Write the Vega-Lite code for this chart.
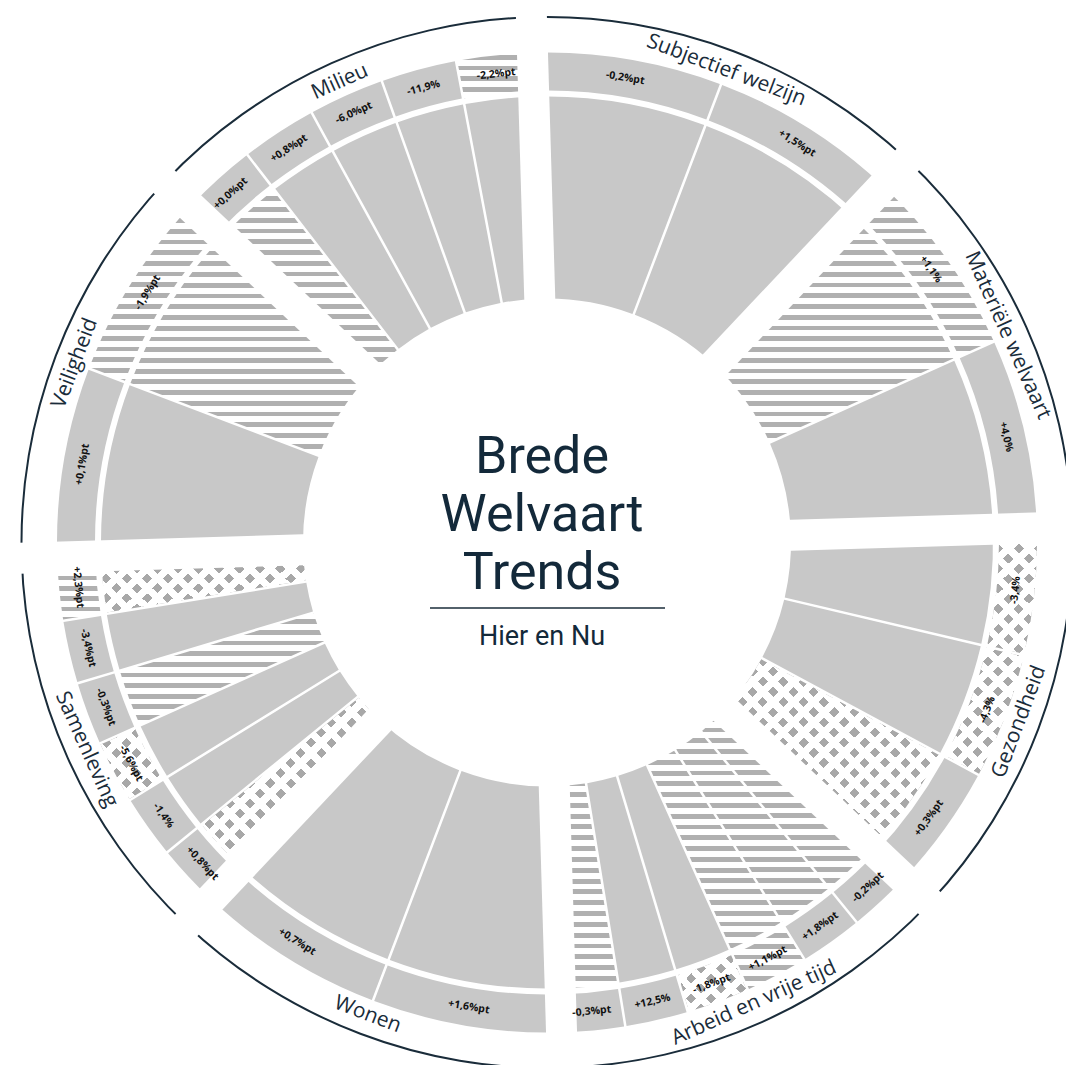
{
  "$schema": "https://vega.github.io/schema/vega-lite/v6.json",
  "width": 1038,
  "height": 1045,
  "padding": {"left": 28, "top": 20, "right": 0, "bottom": 0},
  "autosize": {"type": "none"},
  "background": "white",
  "config": {"view": {"stroke": null}},
  "params": [
    {"name": "streep", "value": [
      {"offset":0,"color":"#b0b0b0"},{"offset":0.018,"color":"#b0b0b0"},{"offset":0.018,"color":"#fff"},{"offset":0.04,"color":"#fff"},
      {"offset":0.04,"color":"#b0b0b0"},{"offset":0.058,"color":"#b0b0b0"},{"offset":0.058,"color":"#fff"},{"offset":0.08,"color":"#fff"},
      {"offset":0.08,"color":"#b0b0b0"},{"offset":0.098,"color":"#b0b0b0"},{"offset":0.098,"color":"#fff"},{"offset":0.12,"color":"#fff"},
      {"offset":0.12,"color":"#b0b0b0"},{"offset":0.138,"color":"#b0b0b0"},{"offset":0.138,"color":"#fff"},{"offset":0.16,"color":"#fff"},
      {"offset":0.16,"color":"#b0b0b0"},{"offset":0.178,"color":"#b0b0b0"},{"offset":0.178,"color":"#fff"},{"offset":0.2,"color":"#fff"},
      {"offset":0.2,"color":"#b0b0b0"},{"offset":0.218,"color":"#b0b0b0"},{"offset":0.218,"color":"#fff"},{"offset":0.24,"color":"#fff"},
      {"offset":0.24,"color":"#b0b0b0"},{"offset":0.258,"color":"#b0b0b0"},{"offset":0.258,"color":"#fff"},{"offset":0.28,"color":"#fff"},
      {"offset":0.28,"color":"#b0b0b0"},{"offset":0.298,"color":"#b0b0b0"},{"offset":0.298,"color":"#fff"},{"offset":0.32,"color":"#fff"},
      {"offset":0.32,"color":"#b0b0b0"},{"offset":0.338,"color":"#b0b0b0"},{"offset":0.338,"color":"#fff"},{"offset":0.36,"color":"#fff"},
      {"offset":0.36,"color":"#b0b0b0"},{"offset":0.378,"color":"#b0b0b0"},{"offset":0.378,"color":"#fff"},{"offset":0.4,"color":"#fff"},
      {"offset":0.4,"color":"#b0b0b0"},{"offset":0.418,"color":"#b0b0b0"},{"offset":0.418,"color":"#fff"},{"offset":0.44,"color":"#fff"},
      {"offset":0.44,"color":"#b0b0b0"},{"offset":0.458,"color":"#b0b0b0"},{"offset":0.458,"color":"#fff"},{"offset":0.48,"color":"#fff"},
      {"offset":0.48,"color":"#b0b0b0"},{"offset":0.498,"color":"#b0b0b0"},{"offset":0.498,"color":"#fff"},{"offset":0.52,"color":"#fff"},
      {"offset":0.52,"color":"#b0b0b0"},{"offset":0.538,"color":"#b0b0b0"},{"offset":0.538,"color":"#fff"},{"offset":0.56,"color":"#fff"},
      {"offset":0.56,"color":"#b0b0b0"},{"offset":0.578,"color":"#b0b0b0"},{"offset":0.578,"color":"#fff"},{"offset":0.6,"color":"#fff"},
      {"offset":0.6,"color":"#b0b0b0"},{"offset":0.618,"color":"#b0b0b0"},{"offset":0.618,"color":"#fff"},{"offset":0.64,"color":"#fff"},
      {"offset":0.64,"color":"#b0b0b0"},{"offset":0.658,"color":"#b0b0b0"},{"offset":0.658,"color":"#fff"},{"offset":0.68,"color":"#fff"},
      {"offset":0.68,"color":"#b0b0b0"},{"offset":0.698,"color":"#b0b0b0"},{"offset":0.698,"color":"#fff"},{"offset":0.72,"color":"#fff"},
      {"offset":0.72,"color":"#b0b0b0"},{"offset":0.738,"color":"#b0b0b0"},{"offset":0.738,"color":"#fff"},{"offset":0.76,"color":"#fff"},
      {"offset":0.76,"color":"#b0b0b0"},{"offset":0.778,"color":"#b0b0b0"},{"offset":0.778,"color":"#fff"},{"offset":0.8,"color":"#fff"},
      {"offset":0.8,"color":"#b0b0b0"},{"offset":0.818,"color":"#b0b0b0"},{"offset":0.818,"color":"#fff"},{"offset":0.84,"color":"#fff"},
      {"offset":0.84,"color":"#b0b0b0"},{"offset":0.858,"color":"#b0b0b0"},{"offset":0.858,"color":"#fff"},{"offset":0.88,"color":"#fff"},
      {"offset":0.88,"color":"#b0b0b0"},{"offset":0.898,"color":"#b0b0b0"},{"offset":0.898,"color":"#fff"},{"offset":0.92,"color":"#fff"},
      {"offset":0.92,"color":"#b0b0b0"},{"offset":0.938,"color":"#b0b0b0"},{"offset":0.938,"color":"#fff"},{"offset":0.96,"color":"#fff"},
      {"offset":0.96,"color":"#b0b0b0"},{"offset":0.978,"color":"#b0b0b0"},{"offset":0.978,"color":"#fff"},{"offset":1,"color":"#fff"}
    ]},
    {"name": "stipA", "value": [
      {"offset":0,"color":"#a8a8a8"},{"offset":0.02,"color":"#a8a8a8"},{"offset":0.02,"color":"#fff"},{"offset":0.04,"color":"#fff"},
      {"offset":0.04,"color":"#a8a8a8"},{"offset":0.06,"color":"#a8a8a8"},{"offset":0.06,"color":"#fff"},{"offset":0.08,"color":"#fff"},
      {"offset":0.08,"color":"#a8a8a8"},{"offset":0.1,"color":"#a8a8a8"},{"offset":0.1,"color":"#fff"},{"offset":0.12,"color":"#fff"},
      {"offset":0.12,"color":"#a8a8a8"},{"offset":0.14,"color":"#a8a8a8"},{"offset":0.14,"color":"#fff"},{"offset":0.16,"color":"#fff"},
      {"offset":0.16,"color":"#a8a8a8"},{"offset":0.18,"color":"#a8a8a8"},{"offset":0.18,"color":"#fff"},{"offset":0.2,"color":"#fff"},
      {"offset":0.2,"color":"#a8a8a8"},{"offset":0.22,"color":"#a8a8a8"},{"offset":0.22,"color":"#fff"},{"offset":0.24,"color":"#fff"},
      {"offset":0.24,"color":"#a8a8a8"},{"offset":0.26,"color":"#a8a8a8"},{"offset":0.26,"color":"#fff"},{"offset":0.28,"color":"#fff"},
      {"offset":0.28,"color":"#a8a8a8"},{"offset":0.3,"color":"#a8a8a8"},{"offset":0.3,"color":"#fff"},{"offset":0.32,"color":"#fff"},
      {"offset":0.32,"color":"#a8a8a8"},{"offset":0.34,"color":"#a8a8a8"},{"offset":0.34,"color":"#fff"},{"offset":0.36,"color":"#fff"},
      {"offset":0.36,"color":"#a8a8a8"},{"offset":0.38,"color":"#a8a8a8"},{"offset":0.38,"color":"#fff"},{"offset":0.4,"color":"#fff"},
      {"offset":0.4,"color":"#a8a8a8"},{"offset":0.42,"color":"#a8a8a8"},{"offset":0.42,"color":"#fff"},{"offset":0.44,"color":"#fff"},
      {"offset":0.44,"color":"#a8a8a8"},{"offset":0.46,"color":"#a8a8a8"},{"offset":0.46,"color":"#fff"},{"offset":0.48,"color":"#fff"},
      {"offset":0.48,"color":"#a8a8a8"},{"offset":0.5,"color":"#a8a8a8"},{"offset":0.5,"color":"#fff"},{"offset":0.52,"color":"#fff"},
      {"offset":0.52,"color":"#a8a8a8"},{"offset":0.54,"color":"#a8a8a8"},{"offset":0.54,"color":"#fff"},{"offset":0.56,"color":"#fff"},
      {"offset":0.56,"color":"#a8a8a8"},{"offset":0.58,"color":"#a8a8a8"},{"offset":0.58,"color":"#fff"},{"offset":0.6,"color":"#fff"},
      {"offset":0.6,"color":"#a8a8a8"},{"offset":0.62,"color":"#a8a8a8"},{"offset":0.62,"color":"#fff"},{"offset":0.64,"color":"#fff"},
      {"offset":0.64,"color":"#a8a8a8"},{"offset":0.66,"color":"#a8a8a8"},{"offset":0.66,"color":"#fff"},{"offset":0.68,"color":"#fff"},
      {"offset":0.68,"color":"#a8a8a8"},{"offset":0.7,"color":"#a8a8a8"},{"offset":0.7,"color":"#fff"},{"offset":0.72,"color":"#fff"},
      {"offset":0.72,"color":"#a8a8a8"},{"offset":0.74,"color":"#a8a8a8"},{"offset":0.74,"color":"#fff"},{"offset":0.76,"color":"#fff"},
      {"offset":0.76,"color":"#a8a8a8"},{"offset":0.78,"color":"#a8a8a8"},{"offset":0.78,"color":"#fff"},{"offset":0.8,"color":"#fff"},
      {"offset":0.8,"color":"#a8a8a8"},{"offset":0.82,"color":"#a8a8a8"},{"offset":0.82,"color":"#fff"},{"offset":0.84,"color":"#fff"},
      {"offset":0.84,"color":"#a8a8a8"},{"offset":0.86,"color":"#a8a8a8"},{"offset":0.86,"color":"#fff"},{"offset":0.88,"color":"#fff"},
      {"offset":0.88,"color":"#a8a8a8"},{"offset":0.9,"color":"#a8a8a8"},{"offset":0.9,"color":"#fff"},{"offset":0.92,"color":"#fff"},
      {"offset":0.92,"color":"#a8a8a8"},{"offset":0.94,"color":"#a8a8a8"},{"offset":0.94,"color":"#fff"},{"offset":0.96,"color":"#fff"},
      {"offset":0.96,"color":"#a8a8a8"},{"offset":0.98,"color":"#a8a8a8"},{"offset":0.98,"color":"#fff"},{"offset":1,"color":"#fff"}
    ]},
    {"name": "stipB", "value": [
      {"offset":0,"color":"#fff"},{"offset":0.02,"color":"#fff"},{"offset":0.02,"color":"rgba(255,255,255,0)"},{"offset":0.04,"color":"rgba(255,255,255,0)"},
      {"offset":0.04,"color":"#fff"},{"offset":0.06,"color":"#fff"},{"offset":0.06,"color":"rgba(255,255,255,0)"},{"offset":0.08,"color":"rgba(255,255,255,0)"},
      {"offset":0.08,"color":"#fff"},{"offset":0.1,"color":"#fff"},{"offset":0.1,"color":"rgba(255,255,255,0)"},{"offset":0.12,"color":"rgba(255,255,255,0)"},
      {"offset":0.12,"color":"#fff"},{"offset":0.14,"color":"#fff"},{"offset":0.14,"color":"rgba(255,255,255,0)"},{"offset":0.16,"color":"rgba(255,255,255,0)"},
      {"offset":0.16,"color":"#fff"},{"offset":0.18,"color":"#fff"},{"offset":0.18,"color":"rgba(255,255,255,0)"},{"offset":0.2,"color":"rgba(255,255,255,0)"},
      {"offset":0.2,"color":"#fff"},{"offset":0.22,"color":"#fff"},{"offset":0.22,"color":"rgba(255,255,255,0)"},{"offset":0.24,"color":"rgba(255,255,255,0)"},
      {"offset":0.24,"color":"#fff"},{"offset":0.26,"color":"#fff"},{"offset":0.26,"color":"rgba(255,255,255,0)"},{"offset":0.28,"color":"rgba(255,255,255,0)"},
      {"offset":0.28,"color":"#fff"},{"offset":0.3,"color":"#fff"},{"offset":0.3,"color":"rgba(255,255,255,0)"},{"offset":0.32,"color":"rgba(255,255,255,0)"},
      {"offset":0.32,"color":"#fff"},{"offset":0.34,"color":"#fff"},{"offset":0.34,"color":"rgba(255,255,255,0)"},{"offset":0.36,"color":"rgba(255,255,255,0)"},
      {"offset":0.36,"color":"#fff"},{"offset":0.38,"color":"#fff"},{"offset":0.38,"color":"rgba(255,255,255,0)"},{"offset":0.4,"color":"rgba(255,255,255,0)"},
      {"offset":0.4,"color":"#fff"},{"offset":0.42,"color":"#fff"},{"offset":0.42,"color":"rgba(255,255,255,0)"},{"offset":0.44,"color":"rgba(255,255,255,0)"},
      {"offset":0.44,"color":"#fff"},{"offset":0.46,"color":"#fff"},{"offset":0.46,"color":"rgba(255,255,255,0)"},{"offset":0.48,"color":"rgba(255,255,255,0)"},
      {"offset":0.48,"color":"#fff"},{"offset":0.5,"color":"#fff"},{"offset":0.5,"color":"rgba(255,255,255,0)"},{"offset":0.52,"color":"rgba(255,255,255,0)"},
      {"offset":0.52,"color":"#fff"},{"offset":0.54,"color":"#fff"},{"offset":0.54,"color":"rgba(255,255,255,0)"},{"offset":0.56,"color":"rgba(255,255,255,0)"},
      {"offset":0.56,"color":"#fff"},{"offset":0.58,"color":"#fff"},{"offset":0.58,"color":"rgba(255,255,255,0)"},{"offset":0.6,"color":"rgba(255,255,255,0)"},
      {"offset":0.6,"color":"#fff"},{"offset":0.62,"color":"#fff"},{"offset":0.62,"color":"rgba(255,255,255,0)"},{"offset":0.64,"color":"rgba(255,255,255,0)"},
      {"offset":0.64,"color":"#fff"},{"offset":0.66,"color":"#fff"},{"offset":0.66,"color":"rgba(255,255,255,0)"},{"offset":0.68,"color":"rgba(255,255,255,0)"},
      {"offset":0.68,"color":"#fff"},{"offset":0.7,"color":"#fff"},{"offset":0.7,"color":"rgba(255,255,255,0)"},{"offset":0.72,"color":"rgba(255,255,255,0)"},
      {"offset":0.72,"color":"#fff"},{"offset":0.74,"color":"#fff"},{"offset":0.74,"color":"rgba(255,255,255,0)"},{"offset":0.76,"color":"rgba(255,255,255,0)"},
      {"offset":0.76,"color":"#fff"},{"offset":0.78,"color":"#fff"},{"offset":0.78,"color":"rgba(255,255,255,0)"},{"offset":0.8,"color":"rgba(255,255,255,0)"},
      {"offset":0.8,"color":"#fff"},{"offset":0.82,"color":"#fff"},{"offset":0.82,"color":"rgba(255,255,255,0)"},{"offset":0.84,"color":"rgba(255,255,255,0)"},
      {"offset":0.84,"color":"#fff"},{"offset":0.86,"color":"#fff"},{"offset":0.86,"color":"rgba(255,255,255,0)"},{"offset":0.88,"color":"rgba(255,255,255,0)"},
      {"offset":0.88,"color":"#fff"},{"offset":0.9,"color":"#fff"},{"offset":0.9,"color":"rgba(255,255,255,0)"},{"offset":0.92,"color":"rgba(255,255,255,0)"},
      {"offset":0.92,"color":"#fff"},{"offset":0.94,"color":"#fff"},{"offset":0.94,"color":"rgba(255,255,255,0)"},{"offset":0.96,"color":"rgba(255,255,255,0)"},
      {"offset":0.96,"color":"#fff"},{"offset":0.98,"color":"#fff"},{"offset":0.98,"color":"rgba(255,255,255,0)"},{"offset":1,"color":"rgba(255,255,255,0)"}
    ]}
  ],
  "title": {
    "text": ["Brede", "Welvaart", "Trends"],
    "subtitle": "Hier en Nu",
    "anchor": "middle",
    "frame": "group",
    "font": "Roboto",
    "fontSize": 52,
    "fontWeight": 400,
    "color": "#13293a",
    "lineHeight": 58,
    "subtitleFont": "Roboto",
    "subtitleFontSize": 27,
    "subtitleColor": "#13293a",
    "subtitlePadding": 24,
    "offset": 0,
    "dx": -5,
    "dy": 669
  },
  "data": {"values": [
    {"thema": "Subjectief welzijn", "label": "-0,2%pt", "balk": "vol", "band": "vol"},
    {"thema": "Subjectief welzijn", "label": "+1,5%pt", "balk": "vol", "band": "vol"},
    {"thema": "Materiële welvaart", "label": "+1,1%", "balk": "streep", "band": "streep"},
    {"thema": "Materiële welvaart", "label": "+4,0%", "balk": "vol", "band": "vol"},
    {"thema": "Gezondheid", "label": "-3,4%", "balk": "vol", "band": "stip"},
    {"thema": "Gezondheid", "label": "-4,3%", "balk": "vol", "band": "stip"},
    {"thema": "Gezondheid", "label": "+0,3%pt", "balk": "stip", "band": "vol"},
    {"thema": "Arbeid en vrije tijd", "label": "-0,2%pt", "balk": "streep", "band": "vol"},
    {"thema": "Arbeid en vrije tijd", "label": "+1,8%pt", "balk": "streep", "band": "vol"},
    {"thema": "Arbeid en vrije tijd", "label": "+1,1%pt", "balk": "streep", "band": "streep"},
    {"thema": "Arbeid en vrije tijd", "label": "-1,8%pt", "balk": "vol", "band": "stip"},
    {"thema": "Arbeid en vrije tijd", "label": "+12,5%", "balk": "vol", "band": "vol"},
    {"thema": "Arbeid en vrije tijd", "label": "-0,3%pt", "balk": "streep", "band": "vol"},
    {"thema": "Wonen", "label": "+1,6%pt", "balk": "vol", "band": "vol"},
    {"thema": "Wonen", "label": "+0,7%pt", "balk": "vol", "band": "vol"},
    {"thema": "Samenleving", "label": "+0,8%pt", "balk": "stip", "band": "vol"},
    {"thema": "Samenleving", "label": "-1,4%", "balk": "vol", "band": "vol"},
    {"thema": "Samenleving", "label": "-5,6%pt", "balk": "vol", "band": "stip"},
    {"thema": "Samenleving", "label": "-0,3%pt", "balk": "streep", "band": "vol"},
    {"thema": "Samenleving", "label": "-3,4%pt", "balk": "vol", "band": "vol"},
    {"thema": "Samenleving", "label": "+2,3%pt", "balk": "stip", "band": "streep"},
    {"thema": "Veiligheid", "label": "+0,1%pt", "balk": "vol", "band": "vol"},
    {"thema": "Veiligheid", "label": "-1,9%pt", "balk": "streep", "band": "streep"},
    {"thema": "Milieu", "label": "+0,0%pt", "balk": "streep", "band": "vol"},
    {"thema": "Milieu", "label": "+0,8%pt", "balk": "vol", "band": "vol"},
    {"thema": "Milieu", "label": "-6,0%pt", "balk": "vol", "band": "vol"},
    {"thema": "Milieu", "label": "-11,9%", "balk": "vol", "band": "vol"},
    {"thema": "Milieu", "label": "-2,2%pt", "balk": "vol", "band": "streep"}
  ]},
  "transform": [
    {"window": [{"op": "row_number", "as": "g"}]},
    {"joinaggregate": [{"op": "min", "field": "g", "as": "g0"}, {"op": "count", "as": "n"}], "groupby": ["thema"]},
    {"window": [{"op": "dense_rank", "as": "ti"}], "sort": [{"field": "g0", "order": "ascending"}]},
    {"calculate": "(datum.ti - 1) * 45 + (datum.g - datum.g0) * 45 / datum.n", "as": "t0"},
    {"calculate": "datum.t0 + 45 / datum.n", "as": "t1"},
    {"calculate": "(datum.t0 + datum.t1) / 2", "as": "tm"},
    {"calculate": "(datum.t0 - 1.7) * PI / 180", "as": "a0"},
    {"calculate": "(datum.t1 - 1.7) * PI / 180", "as": "a1"}
  ],
  "layer": [
    {
      "transform": [
        {"calculate": "min(-244 * cos(datum.a0), -244 * cos(datum.a1), -446 * cos(datum.a0), -446 * cos(datum.a1), (datum.a0 < 0 && datum.a1 > 0) ? -446 : 9999)", "as": "ymin"},
        {"calculate": "max(-244 * cos(datum.a0), -244 * cos(datum.a1), -446 * cos(datum.a0), -446 * cos(datum.a1), (datum.a0 < PI && datum.a1 > PI) ? 446 : -9999)", "as": "ymax"},
        {"calculate": "min(244 * sin(datum.a0), 244 * sin(datum.a1), 446 * sin(datum.a0), 446 * sin(datum.a1), (datum.a0 < 1.5 * PI && datum.a1 > 1.5 * PI) ? -446 : 9999)", "as": "xmin"},
        {"calculate": "max(244 * sin(datum.a0), 244 * sin(datum.a1), 446 * sin(datum.a0), 446 * sin(datum.a1), (datum.a0 < 0.5 * PI && datum.a1 > 0.5 * PI) ? 446 : -9999)", "as": "xmax"},
        {"calculate": "pow(datum.xmax - datum.xmin, 2) + pow(datum.ymax - datum.ymin, 2)", "as": "D"},
        {"calculate": "(datum.xmax - datum.xmin) * 512.5 / datum.D", "as": "gx"},
        {"calculate": "(datum.ymax - datum.ymin) * 512.5 / datum.D", "as": "gy"},
        {"calculate": "(floor((datum.xmin + datum.ymin) / 20.5) * 20.5 - datum.xmin - datum.ymin) / 512.5", "as": "kA"},
        {"calculate": "datum.balk == 'streep' ? {gradient: 'linear', x1: 0, x2: 0, y1: (floor(datum.ymin / 10.84) * 10.84 - datum.ymin) / (datum.ymax - datum.ymin), y2: (floor(datum.ymin / 10.84) * 10.84 - datum.ymin + 271) / (datum.ymax - datum.ymin), stops: streep} : (datum.balk == 'stip' ? {gradient: 'linear', x1: datum.kA * datum.gx, y1: datum.kA * datum.gy, x2: (datum.kA + 1) * datum.gx, y2: (datum.kA + 1) * datum.gy, stops: stipA} : '#c8c8c8')", "as": "vul"}
      ],
      "mark": {"type": "arc", "radius": 446, "radius2": 244, "padAngle": 0.005},
      "encoding": {
        "theta": {"field": "t0", "type": "quantitative", "stack": null, "scale": {"domain": [0, 360], "range": [-0.02967, 6.25352]}},
        "theta2": {"field": "t1"},
        "fill": {"field": "vul", "type": "nominal", "scale": null}
      }
    },
    {
      "transform": [
        {"filter": "datum.balk == 'stip'"},
        {"calculate": "min(-244 * cos(datum.a0), -244 * cos(datum.a1), -446 * cos(datum.a0), -446 * cos(datum.a1), (datum.a0 < 0 && datum.a1 > 0) ? -446 : 9999)", "as": "ymin"},
        {"calculate": "max(-244 * cos(datum.a0), -244 * cos(datum.a1), -446 * cos(datum.a0), -446 * cos(datum.a1), (datum.a0 < PI && datum.a1 > PI) ? 446 : -9999)", "as": "ymax"},
        {"calculate": "min(244 * sin(datum.a0), 244 * sin(datum.a1), 446 * sin(datum.a0), 446 * sin(datum.a1), (datum.a0 < 1.5 * PI && datum.a1 > 1.5 * PI) ? -446 : 9999)", "as": "xmin"},
        {"calculate": "max(244 * sin(datum.a0), 244 * sin(datum.a1), 446 * sin(datum.a0), 446 * sin(datum.a1), (datum.a0 < 0.5 * PI && datum.a1 > 0.5 * PI) ? 446 : -9999)", "as": "xmax"},
        {"calculate": "pow(datum.xmax - datum.xmin, 2) + pow(datum.ymax - datum.ymin, 2)", "as": "D"},
        {"calculate": "(datum.xmax - datum.xmin) * 512.5 / datum.D", "as": "gx"},
        {"calculate": "(datum.ymax - datum.ymin) * 512.5 / datum.D", "as": "gy"},
        {"calculate": "(floor((datum.xmin - datum.ymax) / 20.5) * 20.5 - datum.xmin + datum.ymin) / 512.5", "as": "kB"},
        {"calculate": "{gradient: 'linear', x1: datum.kB * datum.gx, y1: -datum.kB * datum.gy, x2: (datum.kB + 1) * datum.gx, y2: -(datum.kB + 1) * datum.gy, stops: stipB}", "as": "vul"}
      ],
      "mark": {"type": "arc", "radius": 446, "radius2": 244, "padAngle": 0.005},
      "encoding": {
        "theta": {"field": "t0", "type": "quantitative", "stack": null, "scale": {"domain": [0, 360], "range": [-0.02967, 6.25352]}},
        "theta2": {"field": "t1"},
        "fill": {"field": "vul", "type": "nominal", "scale": null}
      }
    },
    {
      "transform": [
        {"calculate": "min(-452 * cos(datum.a0), -452 * cos(datum.a1), -490 * cos(datum.a0), -490 * cos(datum.a1), (datum.a0 < 0 && datum.a1 > 0) ? -490 : 9999)", "as": "ymin"},
        {"calculate": "max(-452 * cos(datum.a0), -452 * cos(datum.a1), -490 * cos(datum.a0), -490 * cos(datum.a1), (datum.a0 < PI && datum.a1 > PI) ? 490 : -9999)", "as": "ymax"},
        {"calculate": "min(452 * sin(datum.a0), 452 * sin(datum.a1), 490 * sin(datum.a0), 490 * sin(datum.a1), (datum.a0 < 1.5 * PI && datum.a1 > 1.5 * PI) ? -490 : 9999)", "as": "xmin"},
        {"calculate": "max(452 * sin(datum.a0), 452 * sin(datum.a1), 490 * sin(datum.a0), 490 * sin(datum.a1), (datum.a0 < 0.5 * PI && datum.a1 > 0.5 * PI) ? 490 : -9999)", "as": "xmax"},
        {"calculate": "pow(datum.xmax - datum.xmin, 2) + pow(datum.ymax - datum.ymin, 2)", "as": "D"},
        {"calculate": "(datum.xmax - datum.xmin) * 512.5 / datum.D", "as": "gx"},
        {"calculate": "(datum.ymax - datum.ymin) * 512.5 / datum.D", "as": "gy"},
        {"calculate": "(floor((datum.xmin + datum.ymin) / 20.5) * 20.5 - datum.xmin - datum.ymin) / 512.5", "as": "kA"},
        {"calculate": "datum.band == 'streep' ? {gradient: 'linear', x1: 0, x2: 0, y1: (floor(datum.ymin / 10.84) * 10.84 - datum.ymin) / (datum.ymax - datum.ymin), y2: (floor(datum.ymin / 10.84) * 10.84 - datum.ymin + 271) / (datum.ymax - datum.ymin), stops: streep} : (datum.band == 'stip' ? {gradient: 'linear', x1: datum.kA * datum.gx, y1: datum.kA * datum.gy, x2: (datum.kA + 1) * datum.gx, y2: (datum.kA + 1) * datum.gy, stops: stipA} : '#c8c8c8')", "as": "vul"}
      ],
      "mark": {"type": "arc", "radius": 490, "radius2": 452, "padAngle": 0.0038},
      "encoding": {
        "theta": {"field": "t0", "type": "quantitative", "stack": null, "scale": {"domain": [0, 360], "range": [-0.02967, 6.25352]}},
        "theta2": {"field": "t1"},
        "fill": {"field": "vul", "type": "nominal", "scale": null}
      }
    },
    {
      "transform": [
        {"filter": "datum.band == 'stip'"},
        {"calculate": "min(-452 * cos(datum.a0), -452 * cos(datum.a1), -490 * cos(datum.a0), -490 * cos(datum.a1), (datum.a0 < 0 && datum.a1 > 0) ? -490 : 9999)", "as": "ymin"},
        {"calculate": "max(-452 * cos(datum.a0), -452 * cos(datum.a1), -490 * cos(datum.a0), -490 * cos(datum.a1), (datum.a0 < PI && datum.a1 > PI) ? 490 : -9999)", "as": "ymax"},
        {"calculate": "min(452 * sin(datum.a0), 452 * sin(datum.a1), 490 * sin(datum.a0), 490 * sin(datum.a1), (datum.a0 < 1.5 * PI && datum.a1 > 1.5 * PI) ? -490 : 9999)", "as": "xmin"},
        {"calculate": "max(452 * sin(datum.a0), 452 * sin(datum.a1), 490 * sin(datum.a0), 490 * sin(datum.a1), (datum.a0 < 0.5 * PI && datum.a1 > 0.5 * PI) ? 490 : -9999)", "as": "xmax"},
        {"calculate": "pow(datum.xmax - datum.xmin, 2) + pow(datum.ymax - datum.ymin, 2)", "as": "D"},
        {"calculate": "(datum.xmax - datum.xmin) * 512.5 / datum.D", "as": "gx"},
        {"calculate": "(datum.ymax - datum.ymin) * 512.5 / datum.D", "as": "gy"},
        {"calculate": "(floor((datum.xmin - datum.ymax) / 20.5) * 20.5 - datum.xmin + datum.ymin) / 512.5", "as": "kB"},
        {"calculate": "{gradient: 'linear', x1: datum.kB * datum.gx, y1: -datum.kB * datum.gy, x2: (datum.kB + 1) * datum.gx, y2: -(datum.kB + 1) * datum.gy, stops: stipB}", "as": "vul"}
      ],
      "mark": {"type": "arc", "radius": 490, "radius2": 452, "padAngle": 0.0038},
      "encoding": {
        "theta": {"field": "t0", "type": "quantitative", "stack": null, "scale": {"domain": [0, 360], "range": [-0.02967, 6.25352]}},
        "theta2": {"field": "t1"},
        "fill": {"field": "vul", "type": "nominal", "scale": null}
      }
    },
    {
      "transform": [
        {"aggregate": [{"op": "min", "field": "t0", "as": "c0"}, {"op": "max", "field": "t1", "as": "c1"}], "groupby": ["thema"]}
      ],
      "mark": {"type": "arc", "radius": 526.5, "radius2": 524.5, "fill": "#1a2c3a"},
      "encoding": {
        "theta": {"field": "c0", "type": "quantitative", "stack": null, "scale": {"domain": [0, 360], "range": [-0.02967, 6.25352]}},
        "theta2": {"field": "c1"}
      }
    },
    {
      "transform": [
        {"aggregate": [{"op": "min", "field": "t0", "as": "ts"}], "groupby": ["thema"]},
        {"calculate": "(datum.ts - 1.7) * PI / 180", "as": "ar"},
        {"calculate": "236 * sin(datum.ar)", "as": "xa"},
        {"calculate": "236 * cos(datum.ar)", "as": "ya"},
        {"calculate": "545 * sin(datum.ar)", "as": "xb"},
        {"calculate": "545 * cos(datum.ar)", "as": "yb"}
      ],
      "mark": {"type": "rule", "color": "white", "strokeWidth": 31, "strokeCap": "butt"},
      "encoding": {
        "x": {"field": "xa", "type": "quantitative", "axis": null, "scale": {"domain": [-519, 519], "nice": false, "zero": false}},
        "x2": {"field": "xb"},
        "y": {"field": "ya", "type": "quantitative", "axis": null, "scale": {"domain": [-522.5, 522.5], "nice": false, "zero": false}},
        "y2": {"field": "yb"}
      }
    },
    {
      "transform": [
        {"calculate": "datum.tm - 1.7", "as": "phi"},
        {"calculate": "(datum.phi > 90 && datum.phi < 270) ? datum.phi - 180 : datum.phi", "as": "rot"}
      ],
      "mark": {"type": "text", "radius": 471, "font": "Open Sans", "fontSize": 10.5, "fontWeight": 700, "fill": "#111111", "align": "center", "baseline": "middle"},
      "encoding": {
        "theta": {"field": "tm", "type": "quantitative", "stack": null, "scale": {"domain": [0, 360], "range": [-0.02967, 6.25352]}},
        "text": {"field": "label"},
        "angle": {"field": "rot", "type": "quantitative", "scale": null}
      }
    },
    {
      "transform": [
        {"aggregate": [{"op": "min", "field": "t0", "as": "c0"}, {"op": "max", "field": "t1", "as": "c1"}], "groupby": ["thema"]},
        {"calculate": "(datum.c0 + datum.c1) / 2", "as": "cm"},
        {"calculate": "datum.cm - 1.7", "as": "phi"},
        {"calculate": "(datum.phi > 90 && datum.phi < 270) ? datum.phi - 180 : datum.phi", "as": "rot"}
      ],
      "mark": {"type": "text", "radius": 505, "font": "Open Sans", "fontSize": 21, "fill": "#1a2c3a", "align": "center", "baseline": "middle"},
      "encoding": {
        "theta": {"field": "cm", "type": "quantitative", "stack": null, "scale": {"domain": [0, 360], "range": [-0.02967, 6.25352]}},
        "text": {"field": "thema"},
        "angle": {"field": "rot", "type": "quantitative", "scale": null}
      }
    },
    {
      "data": {"values": [{}]},
      "mark": {"type": "rule", "stroke": "#1a2c3a", "strokeWidth": 1.5},
      "encoding": {
        "x": {"datum": -117, "type": "quantitative"},
        "x2": {"datum": 118},
        "y": {"datum": -65.5, "type": "quantitative"}
      }
    }
  ]
}
